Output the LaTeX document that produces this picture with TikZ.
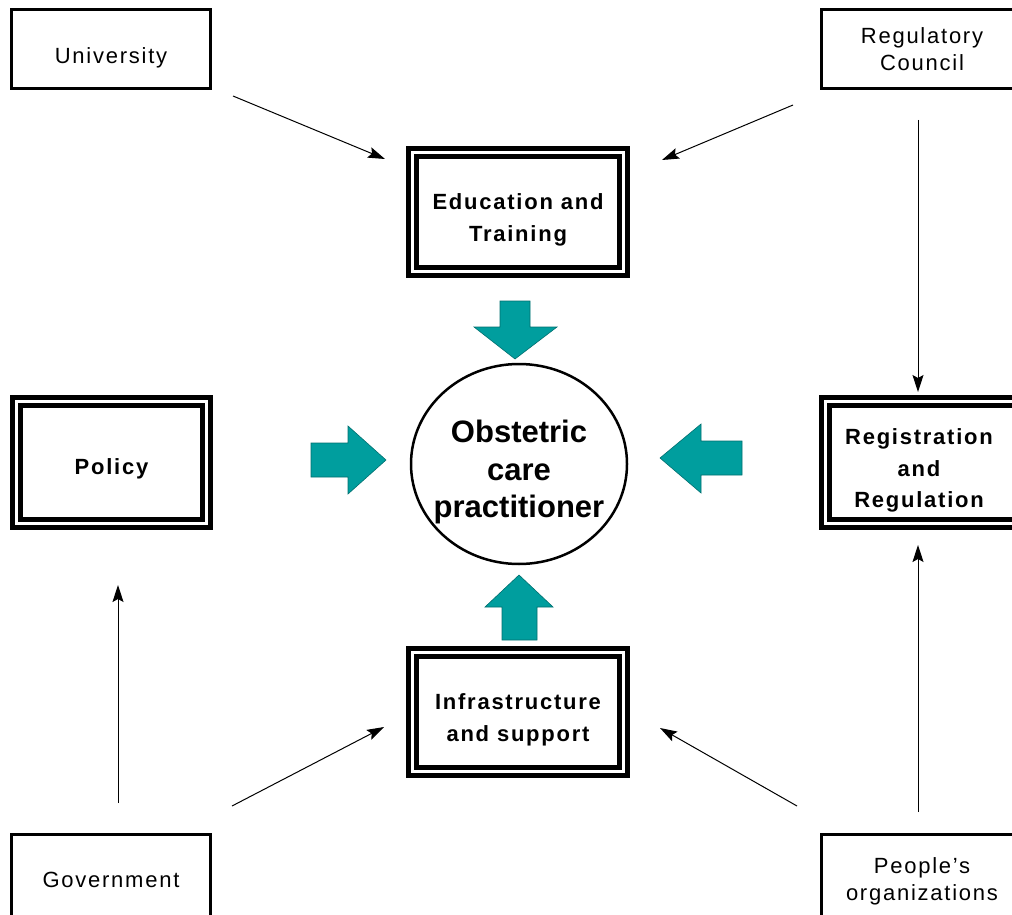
\documentclass[tikz,border=0pt]{standalone}
\usepackage{fontspec}
\setmainfont{Liberation Sans}
\newfontfamily\boxfont[LetterSpace=8]{Liberation Sans}
\usepackage{tikz}
\usetikzlibrary{shapes.geometric,
           arrows.meta,
           calc,
           positioning}
\definecolor{tealarrow}{RGB}{0,158,158}

\begin{document}
\begin{tikzpicture}[x=1pt,y=-1pt,
  plainbox/.style={draw,line width=3pt,outer sep=0,inner sep=0},
  plaintext/.style={align=center,font=\boxfont\fontsize{22}{27}\selectfont},
  dblbox/.style={draw,double,line width=5pt,double distance=3pt,outer sep=0,inner sep=0},
  dbltext/.style={align=center,yshift=-8pt,font=\boxfont\bfseries\fontsize{22}{31.5}\selectfont},
  thinarrow/.style={line width=1pt,-{Stealth[length=17pt,width=11pt,inset=3pt]}},
  bigarrow/.style={fill=tealarrow,draw=tealarrow!70!black,line width=0.6pt}]
\useasboundingbox(0,0)rectangle(1012,915);
% outside boxes
\node[plainbox,minimum width=199pt,minimum height=79pt,
      label={[plaintext,yshift=-9pt]center:University}](univ)at(111,49){};
\node[plainbox,minimum width=201pt,minimum height=79pt,
      label={[plaintext]center:Regulatory\\Council}](reg)at(922,49){};
\node[plainbox,minimum width=199pt,minimum height=90pt,
      label={[plaintext]center:Government}](gov)at(111,879.5){};
\node[plainbox,minimum width=201pt,minimum height=90pt,
      label={[plaintext,yshift=-2pt]center:People’s\\organizations}](people)at(922,879.5){};
% inner boxes
\node[dblbox,minimum width=211pt,minimum height=119pt,
      label={[dbltext]center:Education and\\Training}](edu)at(518,212){};
\node[dblbox,minimum width=190pt,minimum height=122pt,
      label={[dbltext,yshift=2pt]center:Policy}](policy)at(111.5,462.5){};
\node[dblbox,minimum width=199pt,minimum height=122pt,
      label={[dbltext,xshift=-6pt]center:Registration\\and\\Regulation}](regis)at(925,462.5){};
\node[dblbox,minimum width=211pt,minimum height=119pt,
      label={[dbltext]center:Infrastructure\\and support}](infra)at(518,712){};
% centre
\node[ellipse,draw,line width=2.5pt,minimum width=216pt,minimum height=200pt,inner sep=0,
      label={[align=center,yshift=-8pt,font=\bfseries\fontsize{31}{37.5}\selectfont]center:Obstetric\\care\\practitioner}](ocp)at(519,464){};
% thin arrows
\draw[thinarrow]($(univ.south east)+(22.5,7.5)$)--($(edu.north west)+(-27.5,6.5)$);
\draw[thinarrow]($(reg.south west)+(-28.5,16.5)$)--($(edu.north east)+(38.5,7.5)$);
\draw[thinarrow]($(reg.south)+(-4,31.5)$)--($(regis.north)+(-7,-9.5)$);
\draw[thinarrow]($(people.north)+(-4,-22.5)$)--($(regis.south)+(-7,21.5)$);
\draw[thinarrow]($(gov.north)+(7,-31.5)$)--($(policy.south)+(6.5,61.5)$);
\draw[thinarrow]($(gov.north east)+(21.5,-28.5)$)--($(infra.west)+(-28.5,15)$);
\draw[thinarrow]($(people.north west)+(-24.5,-28.5)$)--($(infra.east)+(36.5,16)$);
% block arrows
\draw[bigarrow](500,301)--(530,301)--(530,327)--(557,327)--(515,359)--(474,327)--(500,327)--cycle;
\draw[bigarrow](502,640)--(537,640)--(537,607)--(553,607)--(519,575)--(485,607)--(502,607)--cycle;
\draw[bigarrow](311,443)--(348,443)--(348,426)--(386,460)--(348,494)--(348,477)--(311,477)--cycle;
\draw[bigarrow](742,441)--(701,441)--(701,424)--(660,458)--(701,493)--(701,475)--(742,475)--cycle;
\end{tikzpicture}
\end{document}
